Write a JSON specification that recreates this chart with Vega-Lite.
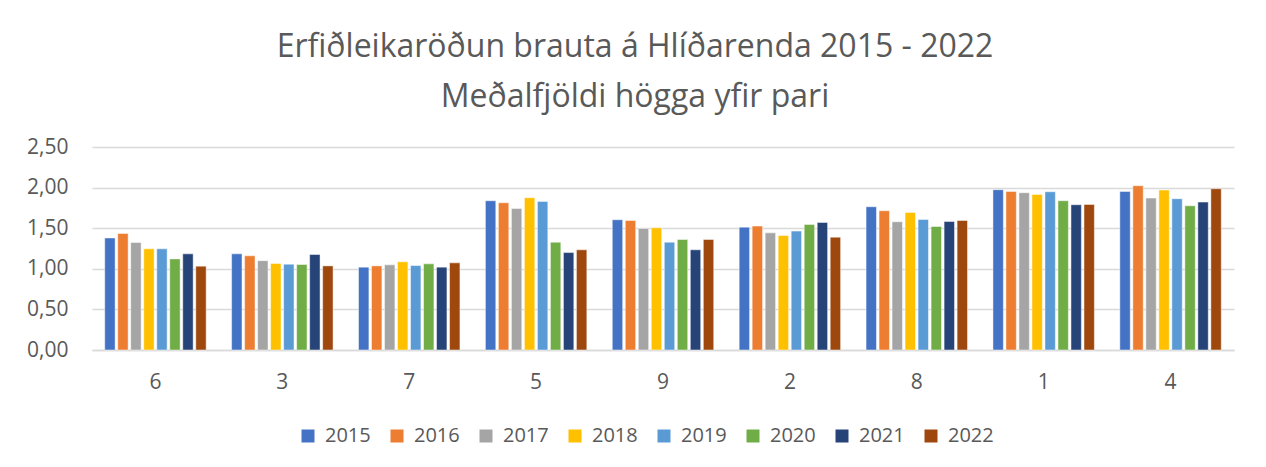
{
  "$schema": "https://vega.github.io/schema/vega-lite/v6.json",
  "width": 1142,
  "height": 203,
  "autosize": {"type": "none"},
  "padding": {"left": 92, "top": 147, "right": 32, "bottom": 117},
  "background": "white",
  "title": {
    "text": ["Erfiðleikaröðun brauta á Hlíðarenda 2015 - 2022", "Meðalfjöldi högga yfir pari"],
    "font": "Open Sans",
    "fontSize": 32,
    "fontWeight": "normal",
    "color": "#595959",
    "lineHeight": 50,
    "anchor": "middle",
    "frame": "group",
    "dx": -28,
    "offset": 22
  },
  "data": {
    "values": [
      {"braut": "6", "ar": "2015", "gildi": 1.38},
      {"braut": "6", "ar": "2016", "gildi": 1.435},
      {"braut": "6", "ar": "2017", "gildi": 1.324},
      {"braut": "6", "ar": "2018", "gildi": 1.246},
      {"braut": "6", "ar": "2019", "gildi": 1.246},
      {"braut": "6", "ar": "2020", "gildi": 1.122},
      {"braut": "6", "ar": "2021", "gildi": 1.184},
      {"braut": "6", "ar": "2022", "gildi": 1.032},
      {"braut": "3", "ar": "2015", "gildi": 1.184},
      {"braut": "3", "ar": "2016", "gildi": 1.16},
      {"braut": "3", "ar": "2017", "gildi": 1.1},
      {"braut": "3", "ar": "2018", "gildi": 1.065},
      {"braut": "3", "ar": "2019", "gildi": 1.057},
      {"braut": "3", "ar": "2020", "gildi": 1.053},
      {"braut": "3", "ar": "2021", "gildi": 1.176},
      {"braut": "3", "ar": "2022", "gildi": 1.036},
      {"braut": "7", "ar": "2015", "gildi": 1.02},
      {"braut": "7", "ar": "2016", "gildi": 1.036},
      {"braut": "7", "ar": "2017", "gildi": 1.049},
      {"braut": "7", "ar": "2018", "gildi": 1.086},
      {"braut": "7", "ar": "2019", "gildi": 1.04},
      {"braut": "7", "ar": "2020", "gildi": 1.061},
      {"braut": "7", "ar": "2021", "gildi": 1.02},
      {"braut": "7", "ar": "2022", "gildi": 1.073},
      {"braut": "5", "ar": "2015", "gildi": 1.838},
      {"braut": "5", "ar": "2016", "gildi": 1.813},
      {"braut": "5", "ar": "2017", "gildi": 1.743},
      {"braut": "5", "ar": "2018", "gildi": 1.875},
      {"braut": "5", "ar": "2019", "gildi": 1.83},
      {"braut": "5", "ar": "2020", "gildi": 1.328},
      {"braut": "5", "ar": "2021", "gildi": 1.2},
      {"braut": "5", "ar": "2022", "gildi": 1.234},
      {"braut": "9", "ar": "2015", "gildi": 1.604},
      {"braut": "9", "ar": "2016", "gildi": 1.595},
      {"braut": "9", "ar": "2017", "gildi": 1.497},
      {"braut": "9", "ar": "2018", "gildi": 1.505},
      {"braut": "9", "ar": "2019", "gildi": 1.328},
      {"braut": "9", "ar": "2020", "gildi": 1.361},
      {"braut": "9", "ar": "2021", "gildi": 1.234},
      {"braut": "9", "ar": "2022", "gildi": 1.361},
      {"braut": "2", "ar": "2015", "gildi": 1.513},
      {"braut": "2", "ar": "2016", "gildi": 1.526},
      {"braut": "2", "ar": "2017", "gildi": 1.443},
      {"braut": "2", "ar": "2018", "gildi": 1.41},
      {"braut": "2", "ar": "2019", "gildi": 1.464},
      {"braut": "2", "ar": "2020", "gildi": 1.546},
      {"braut": "2", "ar": "2021", "gildi": 1.571},
      {"braut": "2", "ar": "2022", "gildi": 1.39},
      {"braut": "8", "ar": "2015", "gildi": 1.764},
      {"braut": "8", "ar": "2016", "gildi": 1.715},
      {"braut": "8", "ar": "2017", "gildi": 1.579},
      {"braut": "8", "ar": "2018", "gildi": 1.694},
      {"braut": "8", "ar": "2019", "gildi": 1.608},
      {"braut": "8", "ar": "2020", "gildi": 1.521},
      {"braut": "8", "ar": "2021", "gildi": 1.583},
      {"braut": "8", "ar": "2022", "gildi": 1.595},
      {"braut": "1", "ar": "2015", "gildi": 1.974},
      {"braut": "1", "ar": "2016", "gildi": 1.953},
      {"braut": "1", "ar": "2017", "gildi": 1.937},
      {"braut": "1", "ar": "2018", "gildi": 1.916},
      {"braut": "1", "ar": "2019", "gildi": 1.949},
      {"braut": "1", "ar": "2020", "gildi": 1.838},
      {"braut": "1", "ar": "2021", "gildi": 1.789},
      {"braut": "1", "ar": "2022", "gildi": 1.793},
      {"braut": "4", "ar": "2015", "gildi": 1.953},
      {"braut": "4", "ar": "2016", "gildi": 2.023},
      {"braut": "4", "ar": "2017", "gildi": 1.871},
      {"braut": "4", "ar": "2018", "gildi": 1.97},
      {"braut": "4", "ar": "2019", "gildi": 1.863},
      {"braut": "4", "ar": "2020", "gildi": 1.776},
      {"braut": "4", "ar": "2021", "gildi": 1.822},
      {"braut": "4", "ar": "2022", "gildi": 1.986}
    ]
  },
  "mark": {"type": "bar", "stroke": "white", "strokeWidth": 0.8, "strokeOpacity": 0.6},
  "encoding": {
    "x": {
      "field": "braut",
      "type": "nominal",
      "sort": ["6", "3", "7", "5", "9", "2", "8", "1", "4"],
      "scale": {"paddingInner": 0.18, "paddingOuter": 0.09},
      "axis": {
        "title": null,
        "labelAngle": 0,
        "labelFont": "Open Sans",
        "labelFontSize": 21,
        "labelColor": "#595959",
        "labelPadding": 21,
        "ticks": false,
        "domainColor": "#D9D9D9",
        "domainWidth": 1.5
      }
    },
    "xOffset": {
      "field": "ar",
      "type": "nominal",
      "scale": {"paddingInner": 0.2, "paddingOuter": 0.1}
    },
    "y": {
      "field": "gildi",
      "type": "quantitative",
      "scale": {"domain": [0, 2.5], "nice": false},
      "axis": {
        "title": null,
        "values": [0, 0.5, 1, 1.5, 2, 2.5],
        "labelExpr": "replace(format(datum.value, '.2f'), '.', ',')",
        "labelFont": "Open Sans",
        "labelFontSize": 21,
        "labelColor": "#595959",
        "labelPadding": 24,
        "ticks": false,
        "domain": false,
        "gridColor": "#D9D9D9",
        "gridWidth": 1.5
      }
    },
    "color": {
      "field": "ar",
      "type": "nominal",
      "scale": {
        "domain": ["2015", "2016", "2017", "2018", "2019", "2020", "2021", "2022"],
        "range": ["#4472C4", "#ED7D31", "#A5A5A5", "#FFC000", "#5B9BD5", "#70AD47", "#264478", "#9E480E"]
      },
      "legend": {
        "title": null,
        "orient": "none",
        "direction": "horizontal",
        "legendX": 206,
        "legendY": 279,
        "padding": 0,
        "symbolType": "square",
        "symbolSize": 169,
        "symbolStrokeWidth": 0,
        "symbolOffset": 0,
        "labelFont": "Open Sans",
        "labelFontSize": 20,
        "labelColor": "#595959",
        "labelOffset": 7,
        "columnPadding": 16
      }
    }
  },
  "config": {"view": {"stroke": null}}
}
